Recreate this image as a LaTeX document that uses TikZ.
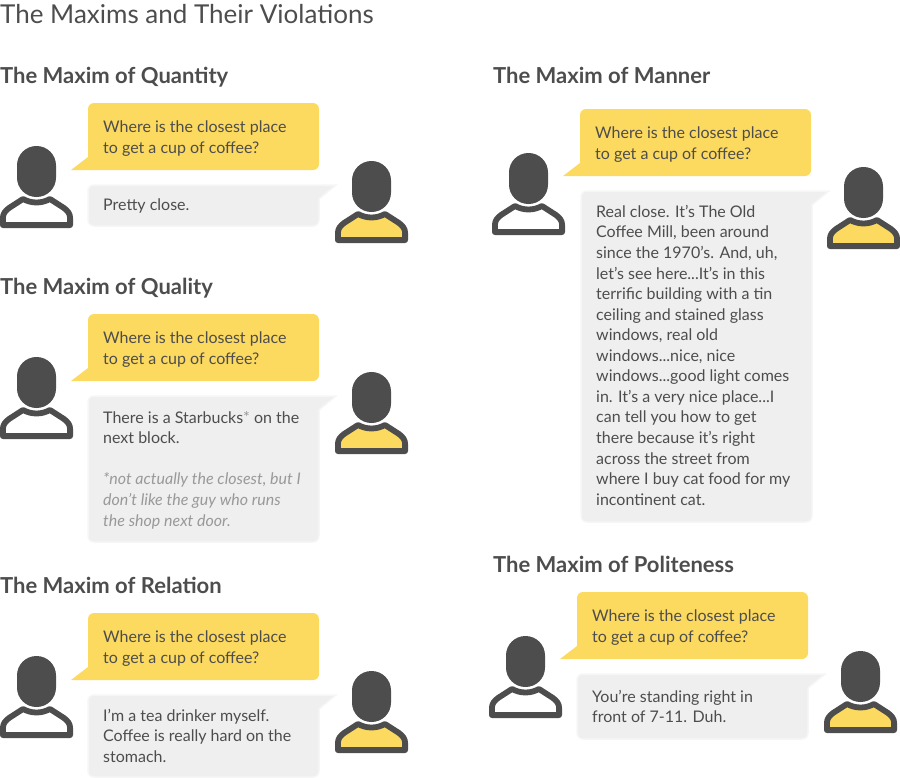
\documentclass[tikz,border=0pt]{standalone}
\usepackage{fontspec}
\setmainfont{Lato}
\definecolor{ink}{HTML}{4D4D4D}
\definecolor{sun}{HTML}{FCD95F}
\definecolor{pale}{HTML}{EFEFEF}
\definecolor{paleedge}{HTML}{F6F6F6}
\definecolor{note}{HTML}{999999}
\tikzset{
  x=1pt,y=-1pt,
  bodytext/.style={anchor=north west,inner sep=0pt,align=left,text=ink,font=\fontsize{16}{20.55}\selectfont},
  heading/.style={anchor=base west,inner sep=0pt,text=ink,font=\fontsize{22}{24}\selectfont\bfseries},
  maintitle/.style={anchor=base west,inner sep=0pt,text=ink,font=\fontsize{26}{28}\selectfont},
  yellowbub/.style={fill=sun,draw=none},
  graybub/.style={fill=pale,draw=paleedge,line width=1.5pt},
  figline/.style={draw=ink,line width=5.8pt,line join=round},
}
% \person{x}{y}{fill}
\newcommand{\person}[3]{%
  \begin{scope}[shift={(#1,#2)}]
    \fill[ink,rounded corners=19.4pt] (17,0) rectangle (56,51);
    \path[figline,fill=#3] (2.9,79.1) -- (2.9,72) .. controls (2.9,68) and (5,65) .. (9,62)
      -- (23,53) .. controls (27,55) and (31,56.5) .. (36.5,56.5) .. controls (42,56.5) and (46,55) .. (50,53)
      -- (64,62) .. controls (68,65) and (70.1,68) .. (70.1,72) -- (70.1,79.1) -- cycle;
  \end{scope}}
% \asks{x}{y}: yellow bubble with left tail, 231 wide, 67 high
\newcommand{\asks}[3]{%
  \fill[yellowbub] (#1+231,#2+30) [rounded corners=6pt] -- (#1+231,#2) -- (#1,#2) [sharp corners] -- (#1,#2+54) -- (#1-17,#2+67) [rounded corners=6pt] -- (#1+231,#2+67) -- cycle;
  \node[bodytext] (#3) at (#1+15,#2+18) {Where is the closest place\\to get a cup of coffee?};}
% \replies{x}{top}{bottom}: gray bubble with right tail
\newcommand{\replies}[3]{%
  \path[graybub,rounded corners=6pt] (#1+100,#3) -- (#1,#3) -- (#1,#2) -- (#1+100,#2) [sharp corners] -- (#1+248,#2) -- (#1+231,#2+14) [rounded corners=6pt] -- (#1+231,#3) -- cycle;}
\begin{document}
\begin{tikzpicture}
\useasboundingbox (0,0) rectangle (900,777);
\node[maintitle] (title) at (0,23) {The Maxims and Their Violations};

% Quantity
\node[heading] (hq) at (0,83) {The Maxim of Quantity};
\asks{88}{103}{qa}
\replies{88}{185}{226}
\node[bodytext] (qb) at (103,199) {Pretty close.};
\person{0}{146}{white}
\person{335}{161}{sun}

% Quality
\node[heading] (hl) at (0,294) {The Maxim of Quality};
\asks{88}{314}{la}
\replies{88}{396}{542}
\node[bodytext] (lb) at (103,411) {There is a Starbucks{\color{note}*} on the\\next block.\\[20.55pt]{\color{note}\itshape *not actually the closest, but I}\\{\color{note}\itshape don't like the guy who runs}\\{\color{note}\itshape the shop next door.}};
\person{0}{357}{white}
\person{335}{372}{sun}

% Relation
\node[heading] (hr) at (0,593) {The Maxim of Relation};
\asks{88}{613}{ra}
\replies{88}{695}{777}
\node[bodytext] (rb) at (103,709) {I’m a tea drinker myself.\\Coffee is really hard on the\\stomach.};
\person{0}{656}{white}
\person{335}{671}{sun}

% Manner
\node[heading] (hm) at (493,83) {The Maxim of Manner};
\asks{580}{109}{ma}
\replies{581}{191}{522}
\node[bodytext] (mb) at (596,205) {Real close. It’s The Old\\Coffee Mill, been around\\since the 1970’s. And, uh,\\let’s see here...It’s in this\\terrific building with a tin\\ceiling and stained glass\\windows, real old\\windows...nice, nice\\windows...good light comes\\in. It’s a very nice place...I\\can tell you how to get\\there because it’s right\\across the street from\\where I buy cat food for my\\incontinent cat.};
\person{492}{153}{white}
\person{827}{167}{sun}

% Politeness
\node[heading] (hp) at (493,572) {The Maxim of Politeness};
\asks{577}{592}{pa}
\replies{577}{674}{739}
\node[bodytext] (pb) at (592,690) {You’re standing right in\\front of 7-11. Duh.};
\person{489}{636}{white}
\person{824}{651}{sun}
\end{tikzpicture}
\end{document}
